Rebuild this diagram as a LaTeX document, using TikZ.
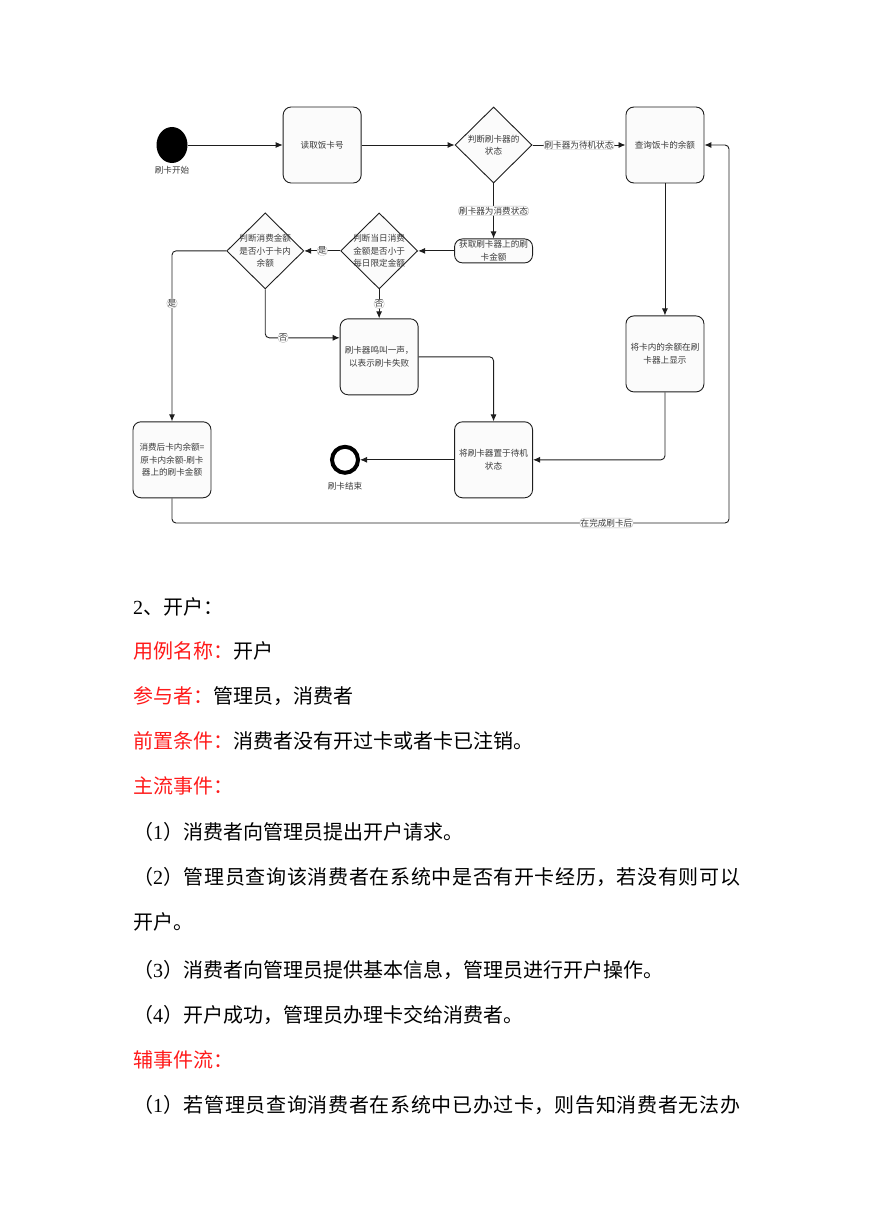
\documentclass[tikz,border=0pt]{standalone}
\usepackage{fontspec}
\setmainfont{Noto Sans CJK SC}
\newfontfamily\tnr{Liberation Serif}
\usepackage{xcolor}
\usepackage{tikz}
\usetikzlibrary{arrows.meta,positioning,shapes.geometric}
\XeTeXlinebreaklocale "zh"
\XeTeXlinebreakskip=0pt plus 4pt
\definecolor{CardInk}{HTML}{3A3A3A}
\definecolor{CardFill}{HTML}{FBFBFB}
\definecolor{CardLine}{HTML}{1E1E1E}
\definecolor{CardRed}{HTML}{FF1A1A}
\newcommand\diafont{\fontsize{8.6}{12.5}\selectfont}
\tikzset{
  state/.style={draw=CardLine,line width=0.9pt,rounded corners=8pt,fill=CardFill,align=center,
    minimum width=78pt,minimum height=76pt,inner sep=2pt,font=\diafont,text=CardInk},
  pill/.style={state,minimum height=24pt,inner sep=1pt},
  decide/.style={diamond,draw=CardLine,line width=0.9pt,fill=CardFill,
    minimum width=77pt,minimum height=76pt,inner sep=0pt},
  capt/.style={align=center,font=\diafont,text=CardInk,inner sep=0pt},
  tag/.style={fill=white,draw=gray!55,line width=0.4pt,inner sep=0.8pt,font=\diafont,text=CardInk},
  startdot/.style={ellipse,fill=black,minimum width=31pt,minimum height=36pt,inner sep=0pt},
  endring/.style={circle,draw=black,line width=4pt,fill=white,minimum size=26pt,inner sep=0pt},
  flow/.style={-{Latex[length=7pt,width=6pt]},line width=0.9pt,draw=CardLine,rounded corners=4pt},
  para/.style={anchor=base west,inner sep=0pt,font=\fontsize{20}{45}\selectfont}
}
\begin{document}
\begin{tikzpicture}[x=1pt,y=-1pt]
  \useasboundingbox (0,0) rectangle (869,1228);
  % swipe flow
  \node[startdot] (start) at (172,145) {};
  \node[capt,below=3pt of start] (startcap) {刷卡开始};
  \node[state,right=95pt of start] (readid) {读取饭卡号};
  \node[decide,right=93pt of readid,label={[capt]center:判断刷卡器的\\状态}] (checkmode) {};
  \node[state,right=93pt of checkmode] (query) {查询饭卡的余额};
  \node[pill,below=55pt of checkmode] (fetch) {获取刷卡器上的刷\\卡金额};
  \node[decide,left=36pt of fetch,label={[capt]center:判断当日消费\\金额是否小于\\每日限定金额}] (daylimit) {};
  \node[decide,left=36pt of daylimit,label={[capt]center:判断消费金额\\是否小于卡内\\余额}] (enough) {};
  \node[state,below=29pt of daylimit] (beep) {刷卡器鸣叫一声，\\以表示刷卡失败};
  \node[state,below=158pt of fetch] (standby) {将刷卡器置于待机\\状态};
  \node[state] (deduct) at (standby -| 172,0) {消费后卡内余额=\\原卡内余额-刷卡\\器上的刷卡金额};
  \node[state,below=132pt of query] (show) {将卡内的余额在刷\\卡器上显示};
  \node[endring] (finish) at (standby -| 345,0) {};
  \node[capt,below=7pt of finish] (finishcap) {刷卡结束};
  \coordinate (loop) at (729,523);

  \draw[flow] (start) -- (readid);
  \draw[flow] (readid) -- (checkmode);
  \draw[flow] (checkmode) -- node[tag] {刷卡器为待机状态} (query);
  \draw[flow] (checkmode) -- node[tag] {刷卡器为消费状态} (fetch);
  \draw[flow] (fetch) -- (daylimit);
  \draw[flow] (daylimit) -- node[tag] {是} (enough);
  \draw[flow] (daylimit) -- node[tag] {否} (beep);
  \draw[flow] (enough.south) |- node[tag,pos=0.62] {否} ([yshift=19pt]beep.west);
  \draw[flow] (enough.west) -| node[tag,pos=0.654] {是} (deduct.north);
  \draw[flow] (beep.east) -| (standby.north);
  \draw[flow] (query) -- (show);
  \draw[flow] (show.south) |- (standby.east);
  \draw[flow] (standby) -- (finish);
  \draw[flow] (deduct.south) |- node[tag,pos=0.89] {在完成刷卡后} (loop) |- (query.east);

  % use case text
  \node[para] (title) at (133,614) {{\tnr 2}、开户：};
  \node[para] (usename) at (133,658) {{\color{CardRed}用例名称：}开户};
  \node[para] (actors) at (133,703) {{\color{CardRed}参与者：}管理员，消费者};
  \node[para] (precond) at (133,748) {{\color{CardRed}前置条件：}消费者没有开过卡或者卡已注销。};
  \node[para] (mainflow) at (133,793) {{\color{CardRed}主流事件：}};
  \node[para] (mainone) at (133,839) {（{\tnr 1}）消费者向管理员提出开户请求。};
  \node[para,text width=607pt,align=justify] (maintwo) at (133,884)
    {（{\tnr 2}）管理员查询该消费者在系统中是否有开卡经历，若没有则可以\linebreak 开户。};
  \node[para] (mainthree) at (133,977) {（{\tnr 3}）消费者向管理员提供基本信息，管理员进行开户操作。};
  \node[para] (mainfour) at (133,1022) {（{\tnr 4}）开户成功，管理员办理卡交给消费者。};
  \node[para] (altflow) at (133,1067) {{\color{CardRed}辅事件流：}};
  \node[para,text width=607pt,align=justify] (altone) at (133,1112)
    {（{\tnr 1}）若管理员查询消费者在系统中已办过卡，则告知消费者无法办\linebreak};
\end{tikzpicture}
\end{document}
